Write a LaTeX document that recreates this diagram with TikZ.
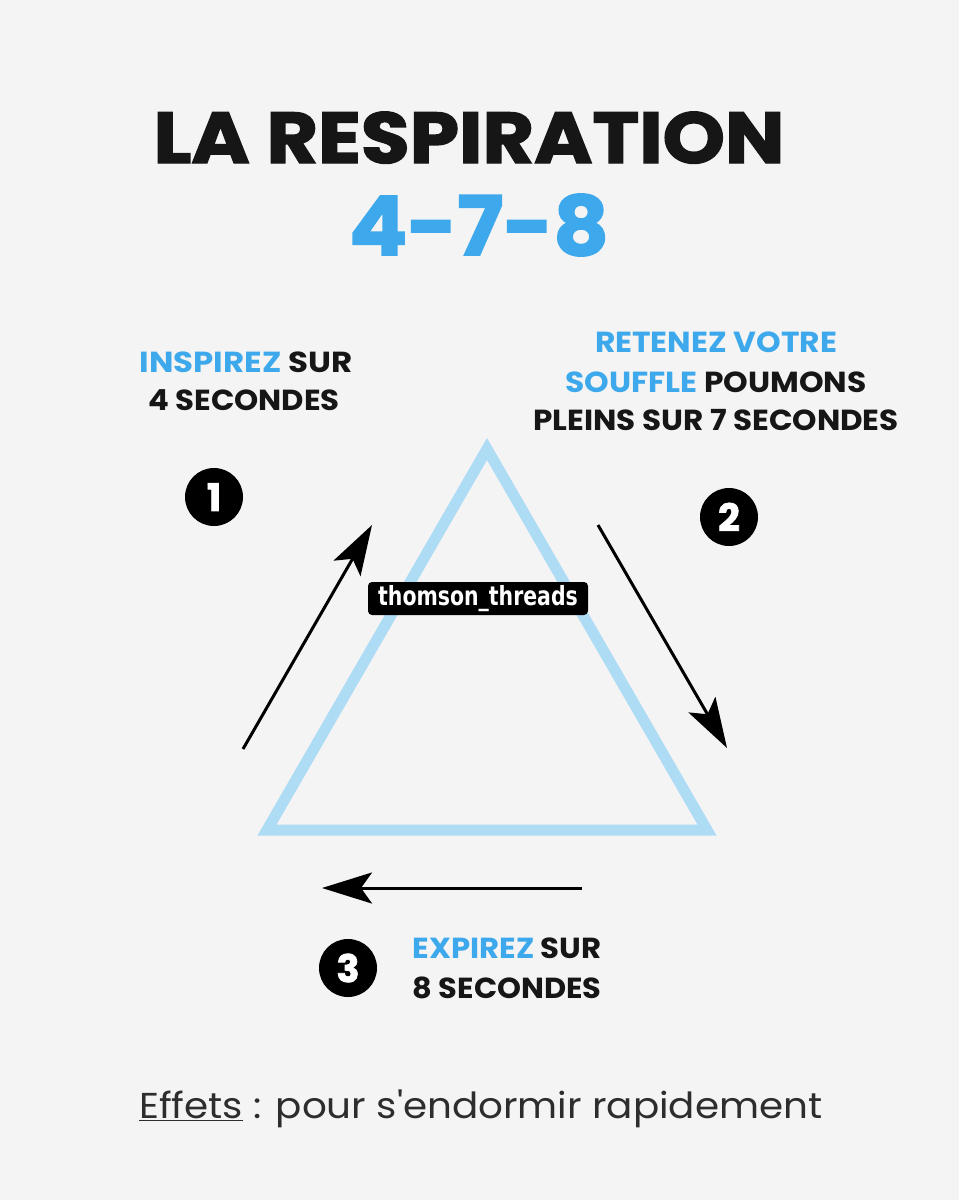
\documentclass[tikz,border=0pt]{standalone}
\usepackage{fontspec}
\setmainfont{Poppins}
\newfontfamily\heavy{Poppins}[BoldFeatures={FakeBold=2}]
\newfontfamily\plainfont{Poppins}
\newfontfamily\wmfont{DejaVu Sans}
\usetikzlibrary{arrows.meta}
\definecolor{bg}{HTML}{F4F4F4}
\definecolor{tblue}{HTML}{AFDCF5}
\definecolor{sblue}{HTML}{3DA9EC}
\definecolor{ink}{HTML}{161616}
\newcommand{\wide}[2]{\scalebox{#1}[1]{#2}}
\begin{document}
\begin{tikzpicture}[x=1pt,y=-1pt,
  lbl/.style={anchor=base,inner sep=0,text=ink,font=\bfseries\fontsize{29}{29}\selectfont},
  numcirc/.style={circle,fill=black,minimum size=58pt,inner sep=0,text=white,font=\heavy\bfseries\fontsize{38}{38}\selectfont},
  flow/.style={line width=3pt,draw=black,-{Stealth[length=50pt,width=31pt,inset=11pt]}}]
\fill[bg] (0,0) rectangle (959,1200);
\useasboundingbox (0,0) rectangle (959,1200);
% title
\node[anchor=base,inner sep=0,text=ink,font=\heavy\bfseries\fontsize{72}{72}\selectfont] (title) at (469,163) {\wide{1.1}{LA RESPIRATION}};
\node[anchor=base,inner sep=0,text=sblue,font=\heavy\bfseries\fontsize{82}{82}\selectfont] (num) at (479,255) {\wide{1.05}{4-7-8}};
% triangle
\coordinate (ta) at (487,449);
\coordinate (tl) at (267,830);
\coordinate (tr) at (707,830);
\draw[tblue,line width=11pt,line join=miter] (ta) -- (tl) -- (tr) -- cycle;
% step 1
\node[lbl] (l1a) at (246,372) {\wide{1.12}{\textcolor{sblue}{INSPIREZ} SUR}};
\node[lbl] (l1b) at (244,410) {\wide{1.06}{4 SECONDES}};
\node[numcirc] (n1) at (214,497) {1};
\coordinate (a1s) at (243,749);
\coordinate (a1e) at (372,525);
\draw[flow] (a1s) -- (a1e);
% step 2
\node[lbl,text=sblue] (l2a) at (716,352) {\wide{1.08}{RETENEZ VOTRE}};
\node[lbl] (l2b) at (716,392) {\wide{1.08}{\textcolor{sblue}{SOUFFLE} POUMONS}};
\node[lbl] (l2c) at (716,430) {\wide{1.07}{PLEINS SUR 7 SECONDES}};
\node[numcirc] (n2) at (729,517) {2};
\coordinate (a2s) at (598,525);
\coordinate (a2e) at (727,748);
\draw[flow] (a2s) -- (a2e);
% step 3
\coordinate (a3s) at (582,888);
\coordinate (a3e) at (322,888);
\draw[flow] (a3s) -- (a3e);
\node[numcirc] (n3) at (348,968) {3};
\node[lbl] (l3a) at (507,958) {\wide{1.06}{\textcolor{sblue}{EXPIREZ} SUR}};
\node[lbl] (l3b) at (507,998) {\wide{1.05}{8 SECONDES}};
% watermark
\node[fill=black,rounded corners=4pt,text=white,inner sep=0,minimum width=220pt,minimum height=33pt,font=\wmfont\bfseries\fontsize{22}{22}\selectfont] (wm) at (478,598.5) {\scalebox{0.93}[1.2]{thomson\_threads}};
% footer
\node[anchor=base west,inner sep=0,text=ink!90,font=\plainfont\fontsize{36}{36}\selectfont] (foot) at (139,1118) {\wide{1.08}{\underline{Effets} : pour s'endormir rapidement}};
\end{tikzpicture}
\end{document}
